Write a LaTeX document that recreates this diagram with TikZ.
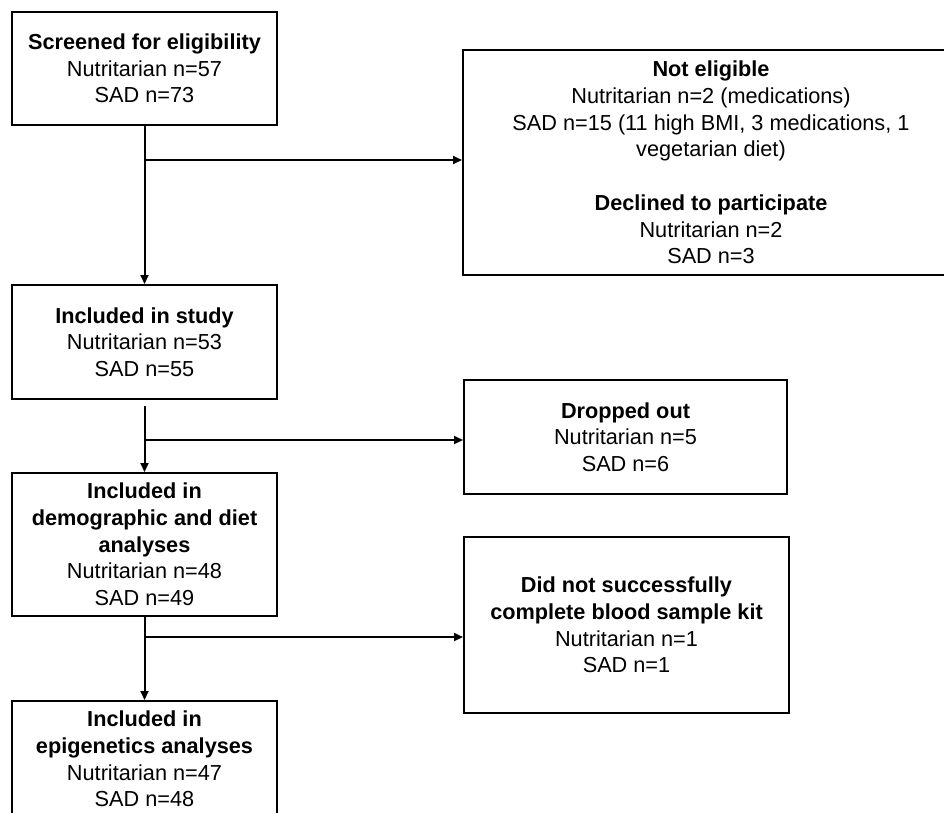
\documentclass[tikz,border=0pt]{standalone}
\usepackage{fontspec}
\setmainfont{Liberation Sans}
\usetikzlibrary{arrows.meta,calc}
\tikzset{
  flowbox/.style={draw=black, line width=2pt, fill=white, inner sep=0pt, align=center,
    font=\fontsize{21.7pt}{26.7pt}\selectfont},
  link/.style={line width=2pt, -{Triangle[length=9pt,width=8pt]}},
  plain/.style={line width=2pt}
}
\begin{document}
\begin{tikzpicture}[x=1pt,y=-1pt]
\path[use as bounding box, clip] (0,0) rectangle (944,812);
\fill[white] (0,0) rectangle (944,812);

\node[flowbox, minimum width=265pt, minimum height=113pt] (s1) at (144.5,68.5)
  {\textbf{Screened for eligibility}\\Nutritarian n=57\\SAD n=73};
\node[flowbox, minimum width=496pt, minimum height=225pt] (ne) at (711,162.5)
  {\textbf{Not eligible}\\Nutritarian n=2 (medications)\\SAD n=15 (11 high BMI, 3 medications, 1\\vegetarian diet)\\[26.7pt]\textbf{Declined to participate}\\Nutritarian n=2\\SAD n=3};
\node[flowbox, minimum width=265pt, minimum height=114pt] (in2) at (144.5,342)
  {\textbf{Included in study}\\Nutritarian n=53\\SAD n=55};
\node[flowbox, minimum width=323pt, minimum height=114pt] (do) at (625.5,437)
  {\textbf{Dropped out}\\Nutritarian n=5\\SAD n=6};
\node[flowbox, minimum width=265pt, minimum height=143pt] (in3) at (144.5,544.5)
  {\textbf{Included in}\\\textbf{demographic and diet}\\\textbf{analyses}\\Nutritarian n=48\\SAD n=49};
\node[flowbox, minimum width=325pt, minimum height=176pt] (dn) at (626.5,625)
  {\textbf{Did not successfully}\\\textbf{complete blood sample kit}\\Nutritarian n=1\\SAD n=1};
\node[flowbox, minimum width=265pt, minimum height=116pt] (in4) at (144.5,759)
  {\textbf{Included in}\\\textbf{epigenetics analyses}\\Nutritarian n=47\\SAD n=48};

\coordinate (b1) at (144.5,160);
\coordinate (t2) at (144.5,406);
\coordinate (b2) at (144.5,440);
\coordinate (b3) at (144.5,637);

\draw[link] (s1.south) -- (in2.north);
\draw[link] (b1) -- (b1 -| ne.west);
\draw[link] (t2) -- (in3.north);
\draw[link] (b2) -- (b2 -| do.west);
\draw[link] (in3.south) -- (in4.north);
\draw[link] (b3) -- (b3 -| dn.west);
\end{tikzpicture}
\end{document}
